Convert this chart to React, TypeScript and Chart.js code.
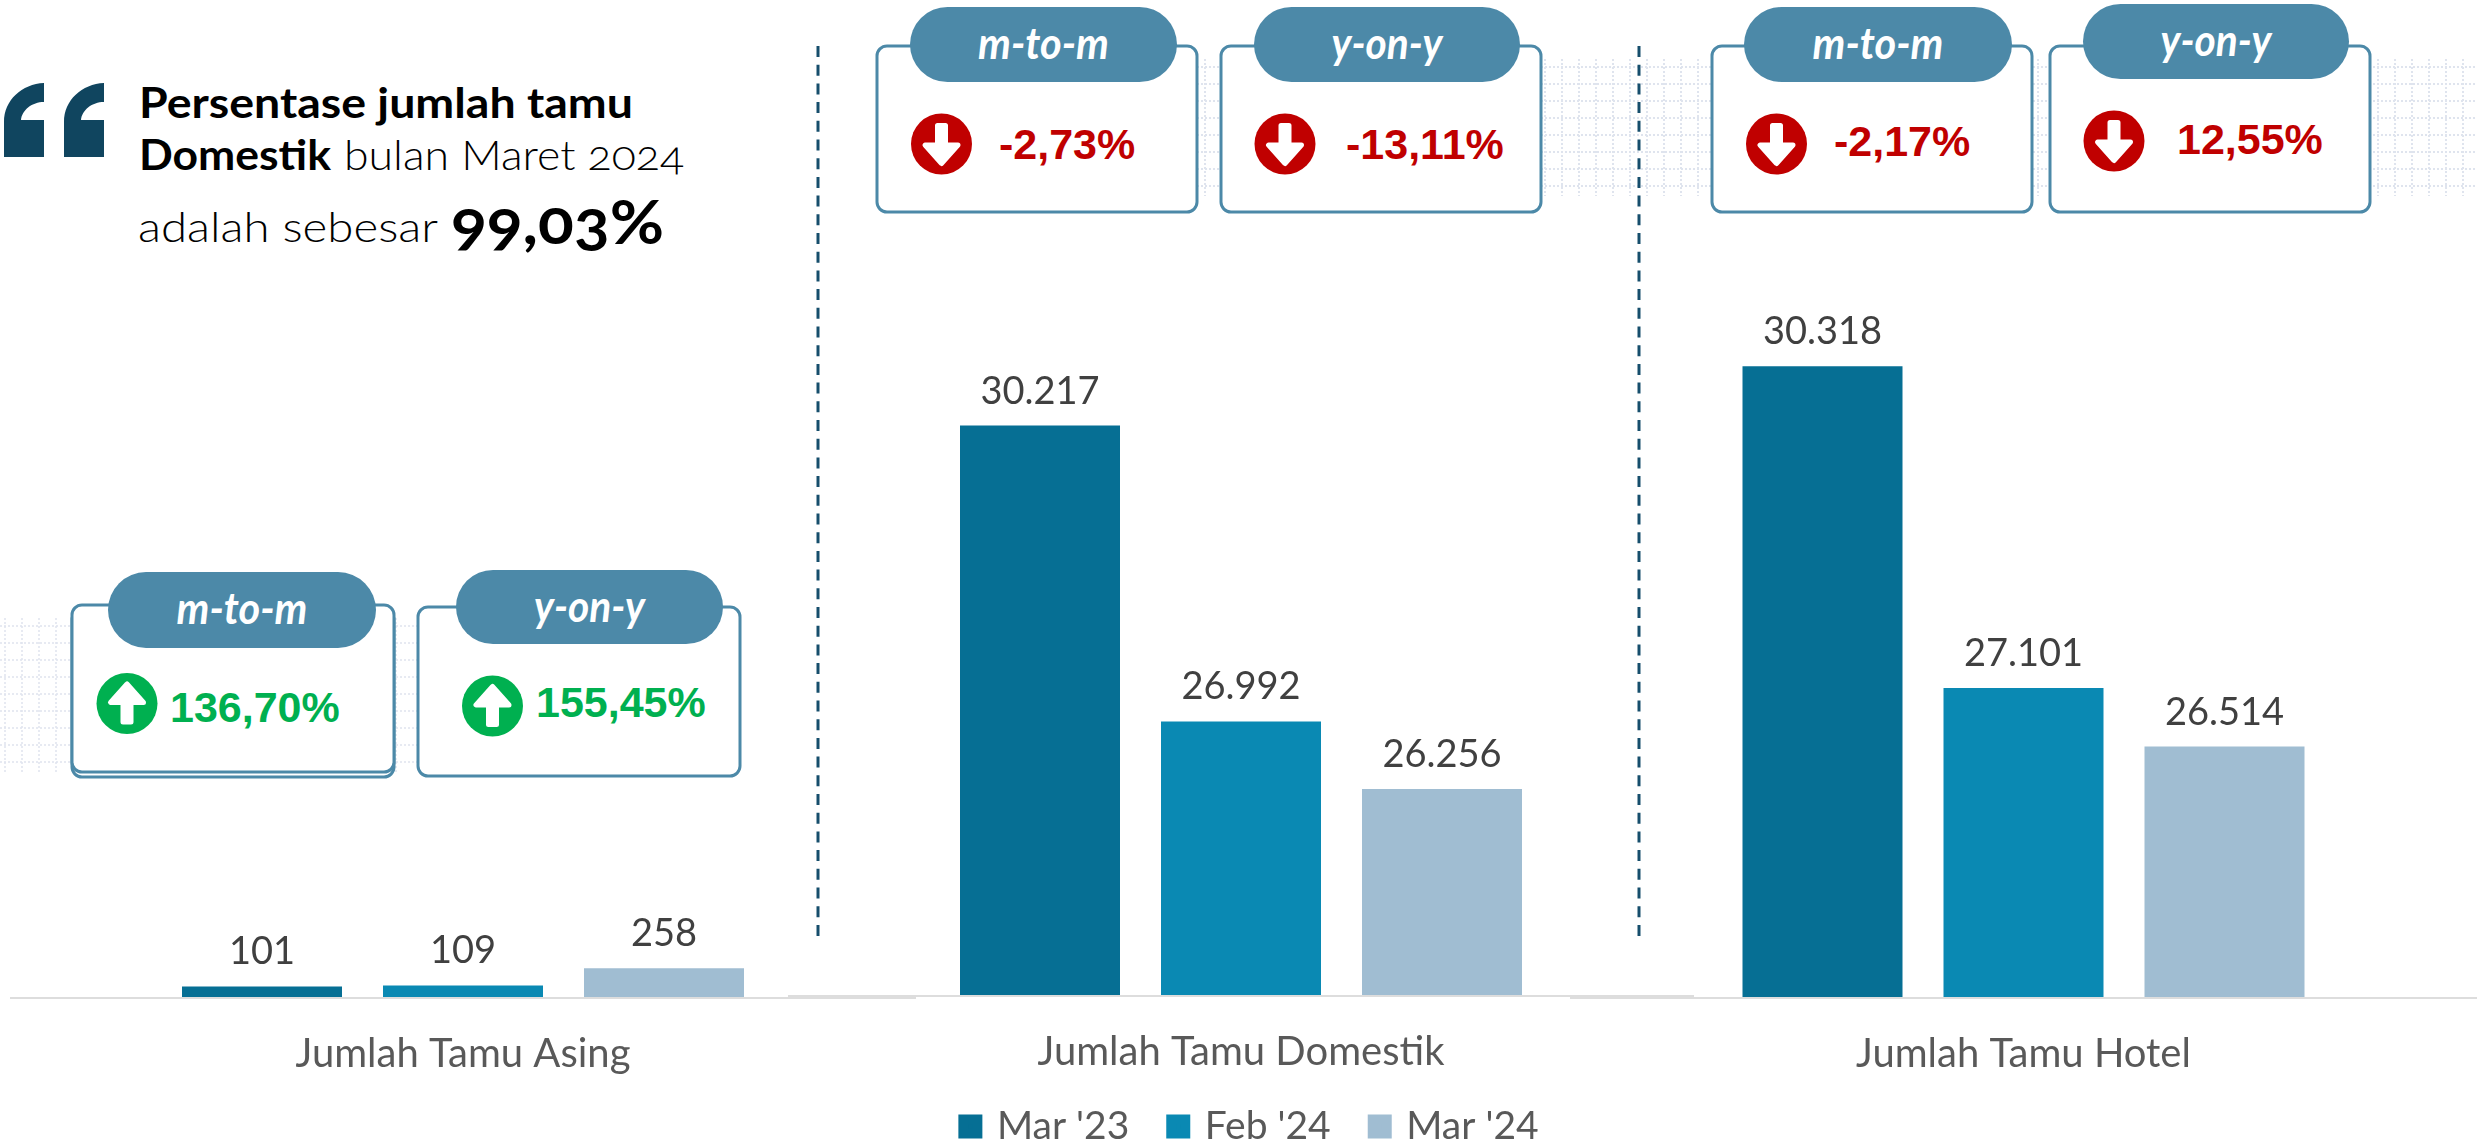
import React, { useEffect, useRef } from "react";
import { Chart, registerables } from "chart.js";

Chart.register(...registerables);

// ---- data ----
const categories = ["Jumlah Tamu Asing", "Jumlah Tamu Domestik", "Jumlah Tamu Hotel"];
const seriesNames = ["Mar '23", "Feb '24", "Mar '24"];
const mar23 = [101, 30217, 30318];
const feb24 = [109, 26992, 27101];
const mar24 = [258, 26256, 26514];
const axisMin = [0, 24000, 24000];
const axisMax = [4000, 32000, 32000];
const mtomValues = ["136,70%", "-2,73%", "-2,17%"];
const yonyValues = ["155,45%", "-13,11%", "12,55%"];
const mtomUp = [true, false, false];
const yonyUp = [true, false, false];

// ---- styles and layout ----
const seriesColors = ["#066F94", "#0A89B3", "#A0BDD2"];
const W = 2477;
const H = 1143;
const panels = [
  { left: 10, width: 906, top: 538, canvasH: 1143, axisH: 145, legend: false },
  { left: 788, width: 906, top: 262, canvasH: 1156, axisH: 69, legend: true },
  { left: 1570, width: 907, top: 198, canvasH: 1143, axisH: 145, legend: false },
];
const BLUE = "#4C89A8";
const FONT = "Lato, 'Open Sans', sans-serif";
const thousands = (v: number) => String(v).replace(/\B(?=(\d{3})+(?!\d))/g, ".");

const valueLabels = {
  id: "valueLabels",
  afterLayout(chart: any) {
    if (chart.legend && chart.options.plugins.legend.display) {
      chart.legend.left += 10;
      chart.legend.right += 10;
    }
  },
  afterDatasetsDraw(chart: any) {
    const ctx = chart.ctx;
    ctx.save();
    ctx.font = `38px ${FONT}`;
    ctx.fillStyle = "#404040";
    ctx.textAlign = "center";
    ctx.textBaseline = "alphabetic";
    chart.data.datasets.forEach((ds: any, i: number) => {
      const el = chart.getDatasetMeta(i).data[0];
      ctx.fillText(thousands(ds.data[0]), el.x, el.y - 22);
    });
    ctx.restore();
  },
};

function Panel({ index }: { index: number }) {
  const ref = useRef<HTMLCanvasElement | null>(null);
  const p = panels[index];
  useEffect(() => {
    const chart = new Chart(ref.current as HTMLCanvasElement, {
      type: "bar",
      data: {
        labels: [categories[index]],
        datasets: [mar23, feb24, mar24].map((arr, i) => ({
          label: seriesNames[i],
          data: [arr[index]],
          backgroundColor: seriesColors[i],
          borderWidth: 0,
          categoryPercentage: 603 / p.width,
          barPercentage: 160 / 201,
        })),
      },
      options: {
        responsive: false,
        animation: false,
        layout: { padding: { top: p.top, bottom: 0, left: 0, right: 0 } },
        plugins: {
          tooltip: { enabled: false },
          title: { display: false },
          legend: {
            display: p.legend,
            position: "bottom",
            labels: {
              boxWidth: 14,
              boxHeight: 14,
              padding: 42,
              color: "#595959",
              font: { family: FONT, size: 39 },
              generateLabels: (chart: any) =>
                Chart.defaults.plugins.legend.labels.generateLabels(chart).map((item: any) => ({
                  ...item,
                  lineWidth: 10,
                  strokeStyle: item.fillStyle,
                })),
            },
          },
        },
        scales: {
          y: { display: false, min: axisMin[index], max: axisMax[index] },
          x: {
            afterFit: (s: any) => {
              s.height = p.axisH;
            },
            grid: { display: false, drawTicks: false },
            border: { display: true, color: "#DDDDDD", width: 2, z: 1 },
            ticks: {
              color: "#595959",
              padding: 32,
              maxRotation: 0,
              font: { family: FONT, size: 40 },
            },
          },
        },
      },
      plugins: [valueLabels],
    } as any);
    return () => chart.destroy();
  }, []);
  return (
    <canvas
      ref={ref}
      width={p.width}
      height={p.canvasH}
      style={{ position: "absolute", left: p.left, top: 0, width: p.width, height: p.canvasH }}
    />
  );
}

type Callout = {
  box: number[];
  pill: number[];
  cx: number;
  cy: number;
  tx: number;
  base: number;
};
const mtomLayout: Callout[] = [
  { box: [72, 605, 322, 167], pill: [108, 572, 268, 76], cx: 127, cy: 703.5, tx: 170, base: 722 },
  { box: [877, 46, 320, 166], pill: [910, 7, 267, 75], cx: 941.5, cy: 144, tx: 999, base: 159 },
  { box: [1712, 46, 320, 166], pill: [1744, 7, 268, 75], cx: 1776.5, cy: 144, tx: 1834, base: 156 },
];
const yonyLayout: Callout[] = [
  { box: [418, 607, 322, 169], pill: [456, 570, 267, 74], cx: 492.5, cy: 706, tx: 536, base: 717 },
  { box: [1221, 46, 320, 166], pill: [1254, 7, 266, 75], cx: 1285, cy: 144, tx: 1346, base: 159 },
  { box: [2050, 46, 320, 166], pill: [2083, 4, 266, 75], cx: 2114, cy: 141, tx: 2177, base: 154 },
];

function CalloutBox({ c, label, value, up, len, shadow }: any) {
  const color = up ? "#00B050" : "#C00000";
  const [bx, by, bw, bh] = c.box;
  const [px, py, pw, ph] = c.pill;
  return (
    <g>
      {shadow && (
        <rect x={bx} y={by + 5} width={bw} height={bh} rx={10} fill="#fff" stroke={BLUE} strokeWidth={3} />
      )}
      <rect x={bx} y={by} width={bw} height={bh} rx={10} fill="#fff" stroke={BLUE} strokeWidth={3} />
      <rect x={px} y={py} width={pw} height={ph} rx={ph / 2} fill={BLUE} />
      <text
        x={px + pw / 2}
        y={py + 52}
        textAnchor="middle"
        fontFamily={FONT}
        fontWeight={700}
        fontStyle="italic"
        fontSize={44}
        fill="#fff"
        textLength={len}
        lengthAdjust="spacingAndGlyphs"
      >
        {label}
      </text>
      <circle cx={c.cx} cy={c.cy} r={30.5} fill={color} />
      <path
        transform={`translate(${c.cx} ${c.cy}) scale(1 ${up ? -1 : 1})`}
        d="M-4 -18.5 L4 -18.5 L4 1 L16.5 1 L0 19.5 L-16.5 1 L-4 1 Z"
        fill="#fff"
        stroke="#fff"
        strokeWidth={5}
        strokeLinejoin="round"
      />
      <text
        x={c.tx}
        y={c.base}
        fontFamily="'Liberation Sans', Arial, sans-serif"
        fontWeight={700}
        fontSize={43}
        fill={color}
      >
        {value}
      </text>
    </g>
  );
}

function DotGrid({ x0, x1, y0, y1, vx0, vx1, width, step = 17 }: any) {
  const lines = [];
  for (let y = y0; y <= y1; y += step)
    lines.push(<line key={"h" + y} x1={x0} x2={x1} y1={y} y2={y} />);
  for (let x = vx0; x <= vx1; x += step)
    lines.push(<line key={"v" + x} x1={x} x2={x} y1={y0 - 8} y2={y1 + 10} />);
  return (
    <g stroke="#DFE4EE" strokeWidth={width} strokeDasharray="2 2" fill="none">
      {lines}
    </g>
  );
}

const quotePath = (x: number) =>
  `M${x} 157 L${x} 122 C${x} 100 ${x + 18} 84 ${x + 40} 83 L${x + 40} 102 C${x + 28} 102 ${x + 18} 110 ${x + 17} 120 L${x + 40} 120 L${x + 40} 157 Z`;

function Text({ x, y, size, weight, len, children }: any) {
  return (
    <text
      x={x}
      y={y}
      fontFamily={FONT}
      fontSize={size}
      fontWeight={weight}
      fill="#000"
      textLength={len}
      lengthAdjust="spacingAndGlyphs"
      style={{ fontVariantNumeric: "oldstyle-nums" }}
    >
      {children}
    </text>
  );
}

export default function App() {
  return (
    <div style={{ position: "relative", width: W, height: H, overflow: "hidden", background: "#fff" }}>
      <style>{"html,body{margin:0;padding:0;background:#fff;overflow:hidden}"}</style>
      <svg width={W} height={H} style={{ position: "absolute", left: 0, top: 0 }}>
        <DotGrid x0={0} x1={418} y0={626} y1={762} vx0={5} vx1={412} width={1.5} />
        <DotGrid x0={1197} x1={2477} y0={67} y1={186} vx0={1205} vx1={2463} width={2} />
        <g stroke="#164E6C" strokeWidth={3} strokeDasharray="11 7.7">
          <line x1={818} x2={818} y1={46} y2={936} />
          <line x1={1639} x2={1639} y1={46} y2={936} />
        </g>
        <path d={quotePath(4)} fill="#10455F" />
        <path d={quotePath(64)} fill="#10455F" />
        <Text x={139} y={118} size={42} weight={700} len={494}>Persentase jumlah tamu</Text>
        <Text x={139} y={170} size={42} weight={700} len={192}>Domestik</Text>
        <Text x={344} y={170} size={42} weight={300} len={340}>bulan Maret 2024</Text>
        <Text x={138} y={242} size={42} weight={300} len={300}>adalah sebesar</Text>
        <Text x={451} y={244} size={62} weight={700} len={213}>99,03%</Text>
        {mtomLayout.map((c, i) => (
          <CalloutBox key={"m" + i} c={c} label="m-to-m" value={mtomValues[i]} up={mtomUp[i]} len={131} shadow={i === 0} />
        ))}
        {yonyLayout.map((c, i) => (
          <CalloutBox key={"y" + i} c={c} label="y-on-y" value={yonyValues[i]} up={yonyUp[i]} len={111} shadow={false} />
        ))}
      </svg>
      {panels.map((_, i) => (
        <Panel key={i} index={i} />
      ))}
    </div>
  );
}
